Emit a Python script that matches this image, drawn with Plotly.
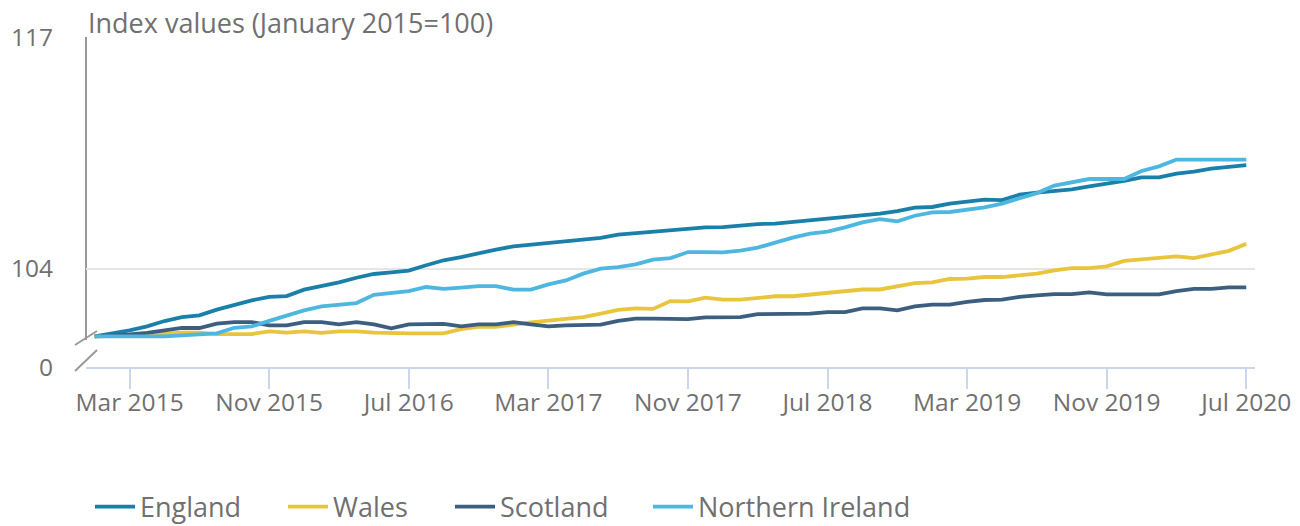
import plotly.graph_objects as go

# ---------------- data ----------------
MONTH_NAMES = ["Jan", "Feb", "Mar", "Apr", "May", "Jun",
               "Jul", "Aug", "Sep", "Oct", "Nov", "Dec"]
months = [f"{m} {y}" for y in range(2015, 2021) for m in MONTH_NAMES][:67]  # Jan 2015 .. Jul 2020

england = [100.20, 100.35, 100.54, 100.76, 101.06, 101.28, 101.38, 101.70, 101.98, 102.22,
           102.41, 102.46, 102.82, 103.02, 103.23, 103.49, 103.70, 103.79, 103.89, 104.19,
           104.47, 104.65, 104.88, 105.07, 105.25, 105.35, 105.44, 105.53, 105.63, 105.72,
           105.91, 106.00, 106.09, 106.19, 106.24, 106.32, 106.33, 106.43, 106.50, 106.53,
           106.62, 106.71, 106.81, 106.90, 106.99, 107.09, 107.23, 107.42, 107.46, 107.65,
           107.76, 107.87, 107.85, 108.15, 108.26, 108.35, 108.45, 108.62, 108.75, 108.92,
           109.12, 109.12, 109.33, 109.44, 109.61, 109.70, 109.81]

wales = [100.20, 100.20, 100.23, 100.29, 100.37, 100.41, 100.41, 100.33, 100.33, 100.33,
         100.48, 100.41, 100.48, 100.40, 100.48, 100.48, 100.41, 100.37, 100.37, 100.37,
         100.37, 100.60, 100.73, 100.73, 100.87, 100.98, 101.08, 101.17, 101.28, 101.47,
         101.68, 101.77, 101.74, 102.18, 102.16, 102.37, 102.26, 102.26, 102.35, 102.45,
         102.45, 102.55, 102.64, 102.74, 102.83, 102.83, 103.02, 103.19, 103.23, 103.42,
         103.44, 103.53, 103.53, 103.62, 103.72, 103.90, 104.03, 104.03, 104.13, 104.43,
         104.52, 104.62, 104.69, 104.59, 104.80, 105.00, 105.39]

scotland = [100.20, 100.23, 100.31, 100.40, 100.54, 100.67, 100.67, 100.91, 101.00, 101.00,
            100.82, 100.82, 101.00, 101.00, 100.87, 101.00, 100.87, 100.65, 100.87, 100.90,
            100.90, 100.76, 100.87, 100.87, 101.00, 100.87, 100.76, 100.82, 100.82, 100.86,
            101.07, 101.19, 101.19, 101.19, 101.17, 101.27, 101.28, 101.28, 101.45, 101.45,
            101.45, 101.47, 101.56, 101.56, 101.77, 101.77, 101.66, 101.88, 101.98, 101.98,
            102.14, 102.24, 102.26, 102.41, 102.50, 102.57, 102.57, 102.67, 102.56, 102.56,
            102.56, 102.56, 102.74, 102.86, 102.86, 102.95, 102.95]

northern_ireland = [100.20, 100.20, 100.20, 100.20, 100.20, 100.26, 100.29, 100.37, 100.68, 100.76,
                    101.07, 101.38, 101.66, 101.88, 102.00, 102.07, 102.53, 102.63, 102.74, 102.97,
                    102.86, 102.93, 103.02, 103.02, 102.82, 102.82, 103.12, 103.34, 103.72, 104.00,
                    104.09, 104.24, 104.51, 104.59, 104.93, 104.93, 104.91, 105.01, 105.18, 105.46,
                    105.74, 105.96, 106.08, 106.32, 106.60, 106.78, 106.65, 106.97, 107.16, 107.18,
                    107.33, 107.44, 107.65, 107.93, 108.24, 108.66, 108.86, 109.03, 109.03, 109.03,
                    109.48, 109.74, 110.12, 110.12, 110.12, 110.12, 110.12]

x_tick_labels = ["Mar 2015", "Nov 2015", "Jul 2016", "Mar 2017", "Nov 2017",
                 "Jul 2018", "Mar 2019", "Nov 2019", "Jul 2020"]
y_tick_vals = [98.48, 104, 117]          # bottom of the broken axis is labelled 0
y_tick_text = ["0", "104", "117"]
y_range = [98.48, 117]

title_text = "Index values (January 2015=100)"

series = [
    ("England", england, "#1a80a9"),
    ("Wales", wales, "#e8c53c"),
    ("Scotland", scotland, "#3c5f80"),
    ("Northern Ireland", northern_ireland, "#4db7e0"),
]

# ---------------- layout constants ----------------
W, H = 1300, 526
ML, MR, MT, MB = 86, 45, 37, 159
PW = W - ML - MR
PH = H - MT - MB
TEXT = "#707070"
FONT = "Open Sans"


def px_x(px):
    return (px - ML) / PW


def px_y(py):
    return (H - MB - py) / PH


legend_sym_px = [95, 288, 455, 653]

fig = go.Figure()
for k, (name, vals, col) in enumerate(series):
    lg = "legend" if k == 0 else f"legend{k + 1}"
    fig.add_trace(go.Scatter(
        x=months, y=vals, name=name, mode="lines",
        line=dict(color=col, width=3.8),
        legend=lg, hoverinfo="x+y+name",
    ))

legend_common = dict(
    orientation="h", yanchor="middle", y=px_y(507), xanchor="left",
    font=dict(family=FONT, size=27, color=TEXT),
    bgcolor="rgba(0,0,0,0)", borderwidth=0, itemwidth=40,
)
layout_legends = {}
for k, sx in enumerate(legend_sym_px):
    key = "legend" if k == 0 else f"legend{k + 1}"
    layout_legends[key] = dict(legend_common, x=px_x(sx - 5))

fig.update_layout(
    width=W, height=H,
    margin=dict(l=ML, r=MR, t=MT, b=MB, pad=0, autoexpand=False),
    paper_bgcolor="white", plot_bgcolor="white",
    font=dict(family=FONT, color=TEXT),
    showlegend=True,
    **layout_legends,
)

fig.update_xaxes(
    type="category", range=[-0.5, 66.5], automargin=False,
    tickmode="array", tickvals=x_tick_labels, ticktext=x_tick_labels,
    ticks="outside", ticklen=20, tickwidth=2, tickcolor="#ccd6eb",
    ticklabelstandoff=-7,
    showline=True, linecolor="#ccd6eb", linewidth=2,
    showgrid=False, zeroline=False,
    tickfont=dict(family=FONT, size=24.5, color=TEXT),
)
fig.update_yaxes(
    range=y_range, automargin=False,
    tickmode="array", tickvals=y_tick_vals, ticktext=y_tick_text,
    showgrid=True, gridcolor="#e6e6e6", gridwidth=1.5,
    showline=False, zeroline=False,
    ticks="outside", ticklen=27, tickcolor="rgba(0,0,0,0)",
    tickfont=dict(family=FONT, size=24.5, color=TEXT),
)

# y axis line with break marks
axis_grey = "#999999"
fig.add_shape(type="line", xref="paper", yref="paper",
              x0=0, x1=0, y0=px_y(340), y1=1,
              line=dict(color=axis_grey, width=2), layer="below")
for (y_a, y_b) in [(345, 331), (371, 350)]:
    fig.add_shape(type="line", xref="paper", yref="paper",
                  x0=px_x(75), y0=px_y(y_a), x1=px_x(97), y1=px_y(y_b),
                  line=dict(color=axis_grey, width=2), layer="below")

fig.add_annotation(
    text=title_text, xref="paper", yref="paper",
    x=px_x(86), y=px_y(22), xanchor="left", yanchor="middle",
    showarrow=False, font=dict(family=FONT, size=27, color=TEXT),
)

fig.write_html(
    "out.html",
    config={"displayModeBar": False},
    post_script="document.body.style.margin='0';document.body.style.padding='0';",
)
